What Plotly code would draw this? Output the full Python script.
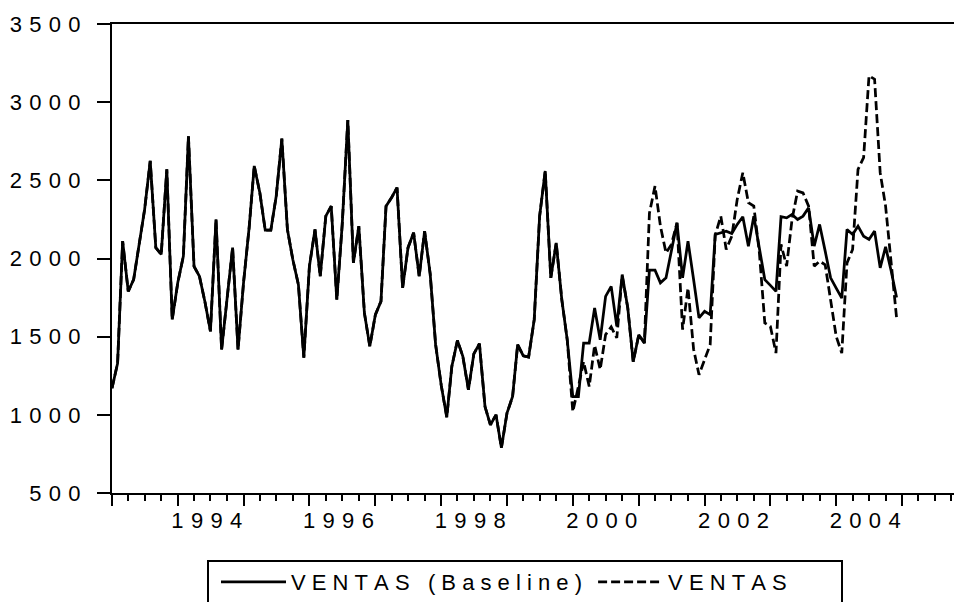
import pandas as pd
import plotly.graph_objects as go

# Monthly observations, Jan 1993 - Dec 2004
months = pd.date_range("1993-01-01", periods=144, freq="MS")

baseline = [
    1170, 1330, 2111, 1790, 1865, 2079, 2314, 2624, 2069, 2026, 2570, 1610,
    1846, 2015, 2782, 1950, 1886, 1720, 1534, 2250, 1417, 1740, 2070, 1417,
    1850, 2200, 2592, 2421, 2181, 2181, 2400, 2767, 2186, 1993, 1833, 1365,
    1950, 2186, 1886, 2271, 2335, 1737, 2218, 2886, 1972, 2207, 1652, 1438,
    1641, 1726, 2335, 2390, 2453, 1812, 2069, 2165, 1886, 2175, 1900, 1450,
    1190, 985, 1310, 1476, 1374, 1160, 1390, 1455, 1053, 936, 1000, 790,
    1011, 1117, 1449, 1378, 1370, 1609, 2271, 2560, 1876, 2100, 1737, 1481,
    1117, 1117, 1459, 1459, 1683, 1480, 1758, 1822, 1566, 1897, 1683, 1340,
    1512, 1459, 1925, 1925, 1844, 1876, 2057, 2228, 1876, 2111, 1866, 1620,
    1662, 1641, 2154, 2165, 2175, 2160, 2218, 2267, 2079, 2271, 2068, 1865,
    1828, 1790, 2267, 2260, 2282, 2250, 2271, 2324, 2079, 2218, 2047, 1876,
    1811, 1747, 2186, 2154, 2207, 2143, 2122, 2175, 1940, 2075, 1920, 1750,
]

ventas = [
    1170, 1330, 2111, 1790, 1865, 2079, 2314, 2624, 2069, 2026, 2570, 1610,
    1846, 2015, 2782, 1950, 1886, 1720, 1534, 2250, 1417, 1740, 2070, 1417,
    1850, 2200, 2592, 2421, 2181, 2181, 2400, 2767, 2186, 1993, 1833, 1365,
    1950, 2186, 1886, 2271, 2335, 1737, 2218, 2886, 1972, 2207, 1652, 1438,
    1641, 1726, 2335, 2390, 2453, 1812, 2069, 2165, 1886, 2175, 1900, 1450,
    1190, 985, 1310, 1476, 1374, 1160, 1390, 1455, 1053, 936, 1000, 790,
    1011, 1117, 1449, 1378, 1370, 1609, 2271, 2560, 1876, 2100, 1737, 1481,
    1021, 1180, 1340, 1181, 1445, 1290, 1513, 1562, 1492, 1890, 1683, 1340,
    1512, 1459, 2290, 2463, 2207, 2036, 2090, 2228, 1545, 1812, 1420, 1256,
    1350, 1449, 2150, 2271, 2058, 2143, 2378, 2549, 2357, 2335, 2036, 1588,
    1566, 1395, 2090, 1951, 2250, 2431, 2420, 2335, 1951, 1983, 1960, 1737,
    1502, 1395, 1972, 2058, 2570, 2645, 3169, 3147, 2549, 2335, 1994, 1620,
]

series_names = ["VENTAS (Baseline)", "VENTAS"]
y_ticks = [500, 1000, 1500, 2000, 2500, 3000, 3500]
x_label_years = ["1994", "1996", "1998", "2000", "2002", "2004"]
year_starts = list(range(1993, 2006))


def spread(text, sep):
    return sep.join("\u00a0" if c == " " else c for c in text)


FONT = "Arial, 'Liberation Sans', sans-serif"
NB = "\u00a0"

fig = go.Figure()
fig.add_trace(go.Scatter(
    x=months, y=baseline, mode="lines",
    name=spread(series_names[0], NB) + NB,
    line=dict(color="black", width=2.75),
))
fig.add_trace(go.Scatter(
    x=months, y=ventas, mode="lines",
    name=spread(series_names[1], NB),
    line=dict(color="black", width=2.75, dash="9px,4px"),
))

x_start = pd.Timestamp("1993-01-01")
x_end = x_start + pd.Timedelta(days=12.787 * 365.25)

xtickvals = [pd.Timestamp(f"{y}-01-01") for y in year_starts]
xticktext = [spread(str(y), "\u2004") if str(y) in x_label_years else "" for y in year_starts]

# legend frame (pixel -> paper conversion for the fixed plot area)
L, R_PX, T, B_PX = 112, 954, 24, 493
def px_x(p):
    return (p - L) / (R_PX - L)
def px_y(p):
    return (B_PX - p) / (B_PX - T)

fig.add_shape(type="rect", xref="paper", yref="paper",
              x0=px_x(208), x1=px_x(842), y0=px_y(640), y1=px_y(561),
              line=dict(color="black", width=2), fillcolor="rgba(0,0,0,0)")

fig.update_layout(
    width=954, height=602,
    margin=dict(l=112, r=0, t=24, b=109, autoexpand=False),
    paper_bgcolor="white", plot_bgcolor="white",
    font=dict(family=FONT, size=22, color="black"),
    showlegend=True,
    legend=dict(
        orientation="h", xref="container", yref="container",
        x=216 / 954, y=1 - 561 / 602, xanchor="left", yanchor="top",
        borderwidth=0, bgcolor="rgba(0,0,0,0)",
        font=dict(family=FONT, size=22, color="black"),
        itemwidth=65, tracegroupgap=0,
    ),
    xaxis=dict(
        type="date", range=[x_start, x_end],
        showline=True, linecolor="black", linewidth=2, mirror=True,
        ticks="outside", ticklen=11, tickwidth=2, tickcolor="black",
        tickvals=xtickvals, ticktext=xticktext,
        ticklabelshift=29, ticklabelstandoff=-4,
        showgrid=False, zeroline=False,
        minor=dict(ticks="outside", ticklen=6, tickwidth=2, tickcolor="black",
                   dtick="M3", tick0="1993-01-01", showgrid=False),
    ),
    yaxis=dict(
        range=[500, 3500],
        showline=True, linecolor="black", linewidth=2, mirror=False,
        ticks="outside", ticklen=13, tickwidth=2, tickcolor="black",
        tickvals=y_ticks, ticktext=[spread(str(v), "\u2004") for v in y_ticks],
        ticklabelstandoff=12,
        showgrid=False, zeroline=False,
    ),
)

fig.write_html(
    "out.html",
    config={"displayModeBar": False},
    post_script="document.body.style.margin='0';document.body.style.overflow='hidden';",
)
